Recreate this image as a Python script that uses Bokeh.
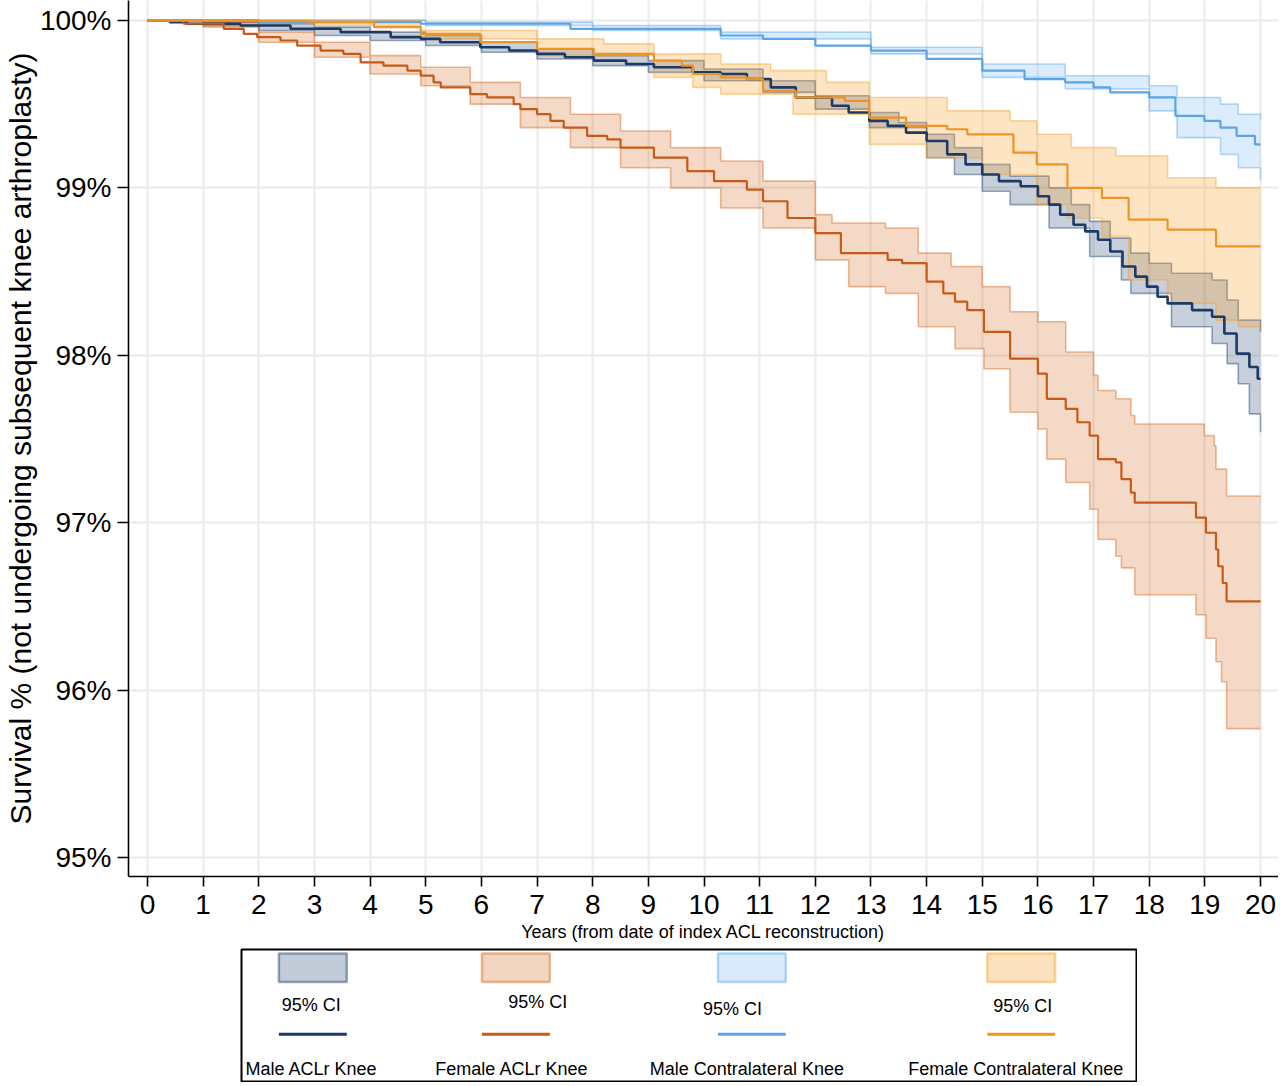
from bokeh.plotting import figure
from bokeh.models import Range1d, FixedTicker, Spacer
from bokeh.layouts import column, row
from bokeh.embed import file_html
from bokeh.resources import INLINE
from bokeh.core.properties import value

# ---------------- data ----------------
years_ticks = list(range(0, 21))
y_ticks = [95, 96, 97, 98, 99, 100]
y_tick_labels = ["95%", "96%", "97%", "98%", "99%", "100%"]

series_names = ["Male ACLr Knee", "Female ACLr Knee", "Male Contralateral Knee", "Female Contralateral Knee"]
ci_label = "95% CI"

# Male ACLr knee
male_aclr_t = [0, 0.4, 0.71, 1.67, 2.57, 3.47, 4.37, 4.91, 5.26, 5.98, 6.5, 7.0, 7.5, 8.02, 8.6, 9.1, 9.8, 10.3,
               10.77, 11.2, 11.65, 12.3, 12.6, 12.97, 13.3, 13.63, 14.0, 14.37, 14.7, 15.0, 15.3, 15.69, 16.0, 16.2,
               16.4, 16.64, 16.85, 17.08, 17.3, 17.52, 17.75, 17.96, 18.15, 18.33, 18.77, 19.13, 19.35, 19.57, 19.8,
               19.95, 20.0]
male_aclr_s = [100, 99.99, 99.98, 99.97, 99.95, 99.93, 99.90, 99.89, 99.87, 99.84, 99.82, 99.80, 99.78, 99.76,
               99.74, 99.72, 99.69, 99.68, 99.65, 99.60, 99.54, 99.49, 99.45, 99.40, 99.37, 99.33, 99.28, 99.20,
               99.14, 99.08, 99.04, 99.01, 98.95, 98.90, 98.84, 98.78, 98.74, 98.69, 98.62, 98.53, 98.47, 98.41,
               98.35, 98.31, 98.27, 98.23, 98.13, 98.01, 97.93, 97.86, 97.86]
male_aclr_up_t = [0, 1, 2, 3, 4, 5, 6, 7, 8, 9, 10, 11.06, 12, 12.97, 13.5, 14, 14.5, 15, 15.5, 16.2, 16.6, 16.93,
                  17.3, 17.67, 18.0, 18.4, 19.13, 19.4, 19.6, 20]
male_aclr_up_s = [100, 99.99, 99.98, 99.96, 99.93, 99.91, 99.87, 99.83, 99.79, 99.76, 99.71, 99.64, 99.55, 99.45,
                  99.39, 99.32, 99.24, 99.14, 99.07, 99.00, 98.90, 98.80, 98.70, 98.61, 98.55, 98.49, 98.45, 98.33,
                  98.21, 98.14]
male_aclr_lo_t = [0, 1, 2, 3, 4, 5, 6, 7, 8, 9, 10, 11.06, 12, 12.97, 14, 14.5, 15, 15.5, 16.2, 16.93, 17.5, 17.67,
                  18.4, 19.13, 19.4, 19.6, 19.8, 20]
male_aclr_lo_s = [100, 99.97, 99.94, 99.91, 99.88, 99.85, 99.81, 99.77, 99.73, 99.69, 99.64, 99.57, 99.47, 99.36,
                  99.18, 99.08, 98.98, 98.90, 98.76, 98.59, 98.45, 98.37, 98.17, 98.07, 97.95, 97.83, 97.65, 97.54]

# Female ACLr knee
female_aclr_t = [0, 0.65, 1.37, 1.73, 1.97, 2.39, 2.69, 3.11, 3.52, 3.83, 4.24, 4.67, 4.91, 5.14, 5.27, 5.8, 6.1,
                 6.58, 6.7, 7.0, 7.24, 7.48, 7.9, 8.26, 8.5, 9.1, 9.7, 10.18, 10.77, 11.06, 11.5, 12.0, 12.46, 13.3,
                 13.56, 14.0, 14.3, 14.51, 14.73, 15.03, 15.5, 16.0, 16.16, 16.5, 16.71, 16.93, 17.08, 17.4, 17.5,
                 17.67, 17.74, 18.84, 19.02, 19.2, 19.24, 19.32, 19.39, 20.0]
female_aclr_s = [100, 99.98, 99.95, 99.92, 99.90, 99.88, 99.85, 99.82, 99.80, 99.75, 99.73, 99.70, 99.67, 99.63,
                 99.60, 99.56, 99.54, 99.50, 99.47, 99.44, 99.40, 99.36, 99.31, 99.29, 99.24, 99.18, 99.10, 99.04,
                 98.99, 98.92, 98.82, 98.73, 98.61, 98.57, 98.55, 98.44, 98.37, 98.32, 98.27, 98.14, 97.98, 97.89,
                 97.74, 97.68, 97.60, 97.52, 97.38, 97.36, 97.26, 97.18, 97.12, 97.03, 96.94, 96.84, 96.74, 96.64,
                 96.53, 96.53]
female_aclr_up_t = [0, 1, 2, 3, 4, 4.91, 5.8, 6.7, 7.6, 8.5, 9.4, 10.3, 11.06, 12.0, 12.3, 13.26, 13.85, 14.44, 15.0,
                    15.5, 16.0, 16.5, 17.0, 17.08, 17.4, 17.67, 17.74, 18.99, 19.17, 19.2, 19.39, 20]
female_aclr_up_s = [100, 99.99, 99.93, 99.87, 99.79, 99.72, 99.63, 99.54, 99.44, 99.34, 99.24, 99.16, 99.04, 98.84,
                    98.79, 98.76, 98.61, 98.53, 98.41, 98.26, 98.20, 98.02, 97.88, 97.79, 97.74, 97.64, 97.59, 97.52,
                    97.46, 97.32, 97.16, 97.16]
female_aclr_lo_t = [0, 1, 2, 3, 4, 4.91, 5.8, 6.7, 7.6, 8.5, 9.4, 10.3, 11.06, 12.0, 12.6, 13.26, 13.85, 14.51,
                    15.03, 15.5, 16.0, 16.16, 16.5, 16.93, 17.08, 17.4, 17.5, 17.74, 18.84, 19.02, 19.2, 19.3,
                    19.39, 20]
female_aclr_lo_s = [100, 99.96, 99.87, 99.78, 99.68, 99.61, 99.50, 99.36, 99.24, 99.12, 99.00, 98.88, 98.76, 98.57,
                    98.41, 98.37, 98.17, 98.04, 97.92, 97.66, 97.56, 97.38, 97.24, 97.08, 96.90, 96.80, 96.73, 96.57,
                    96.45, 96.31, 96.17, 96.05, 95.77, 95.77]

# Male contralateral knee
male_contra_t = [0, 2, 4.91, 7.6, 10.3, 11.06, 12, 13, 14, 15, 15.76, 16.49, 17.0, 17.3, 18.0, 18.47, 18.99, 19.28,
                 19.57, 19.9, 20]
male_contra_s = [100, 99.99, 99.98, 99.95, 99.91, 99.89, 99.85, 99.82, 99.77, 99.70, 99.65, 99.63, 99.60, 99.57,
                 99.54, 99.43, 99.40, 99.36, 99.31, 99.26, 99.26]
male_contra_up_t = [0, 5, 8, 10.3, 13, 15, 16.49, 18, 18.5, 19.28, 19.6, 20]
male_contra_up_s = [100, 99.99, 99.97, 99.93, 99.84, 99.74, 99.67, 99.61, 99.54, 99.50, 99.44, 99.41]
male_contra_lo_t = [0, 5, 8, 10.3, 13, 15, 16.49, 18, 18.5, 19.28, 19.6, 20]
male_contra_lo_s = [100, 99.97, 99.94, 99.89, 99.80, 99.66, 99.59, 99.46, 99.30, 99.20, 99.12, 99.05]

# Female contralateral knee
female_contra_t = [0, 2, 2.87, 4.07, 4.91, 5.98, 7.0, 8.02, 9.1, 9.6, 9.8, 10.3, 10.77, 11.06, 11.65, 12.53, 12.97,
                   13.63, 14.37, 14.73, 15.56, 15.98, 16.53, 17.15, 17.63, 18.33, 19.2, 20]
female_contra_s = [100, 99.995, 99.99, 99.96, 99.92, 99.87, 99.83, 99.80, 99.76, 99.73, 99.68, 99.66, 99.65, 99.58,
                   99.54, 99.52, 99.42, 99.37, 99.35, 99.32, 99.21, 99.14, 99.00, 98.94, 98.81, 98.75, 98.65, 98.65]
female_contra_up_t = [0, 3, 4.91, 7.0, 8.2, 9.1, 10.3, 11.2, 12.2, 12.97, 14.37, 15.5, 15.98, 16.6, 17.4, 18.33,
                      19.2, 20]
female_contra_up_s = [100, 100, 99.94, 99.89, 99.86, 99.80, 99.74, 99.70, 99.63, 99.54, 99.46, 99.40, 99.32, 99.24,
                      99.19, 99.06, 99.00, 99.00]
female_contra_lo_t = [0, 3, 4.91, 7.0, 9.1, 9.8, 10.3, 11.6, 12.97, 14.0, 15.0, 15.98, 16.53, 17.15, 17.63, 18.33,
                      19.2, 19.6, 20]
female_contra_lo_s = [100, 99.97, 99.89, 99.79, 99.66, 99.60, 99.56, 99.44, 99.26, 99.18, 99.08, 98.90, 98.82,
                      98.71, 98.45, 98.31, 98.21, 98.17, 98.15]

# ---------------- styles ----------------
FONT = "Liberation Sans"
line_colors = ["#1B3A66", "#C85A17", "#5BA4E5", "#EE9425"]
band_colors = ["#1F3F6E", "#D2691E", "#5DA9F0", "#F9A02A"]
band_alpha = [0.25, 0.25, 0.22, 0.28]
line_widths = [2.6, 2.2, 2.2, 2.2]


def step_vertices(t, s, t_end):
    xs, ys = [], []
    for i in range(len(t)):
        nxt = t[i + 1] if i + 1 < len(t) else t_end
        xs += [t[i], nxt]
        ys += [s[i], s[i]]
    return xs, ys


series = [
    (male_aclr_t, male_aclr_s, male_aclr_up_t, male_aclr_up_s, male_aclr_lo_t, male_aclr_lo_s),
    (female_aclr_t, female_aclr_s, female_aclr_up_t, female_aclr_up_s, female_aclr_lo_t, female_aclr_lo_s),
    (male_contra_t, male_contra_s, male_contra_up_t, male_contra_up_s, male_contra_lo_t, male_contra_lo_s),
    (female_contra_t, female_contra_s, female_contra_up_t, female_contra_up_s, female_contra_lo_t, female_contra_lo_s),
]

# ---------------- main figure ----------------
p = figure(width=1278, height=948, output_backend="svg", toolbar_location=None,
           x_range=Range1d(-0.3414, 20.323), y_range=Range1d(94.887, 100.119),
           min_border_left=128, min_border_right=0, min_border_top=0, min_border_bottom=72)
p.outline_line_color = None
p.background_fill_color = "white"
p.border_fill_color = "white"

p.xaxis.ticker = FixedTicker(ticks=years_ticks)
p.yaxis.ticker = FixedTicker(ticks=y_ticks)
p.yaxis.major_label_overrides = {t: lab for t, lab in zip(y_ticks, y_tick_labels)}
p.xgrid.ticker = FixedTicker(ticks=years_ticks)
p.ygrid.ticker = FixedTicker(ticks=y_ticks)
for g in (p.xgrid, p.ygrid):
    g.grid_line_color = "#EAEAEA"
    g.grid_line_width = 2

for ax in (p.xaxis, p.yaxis):
    ax.axis_line_color = "black"
    ax.axis_line_width = 1.6
    ax.major_tick_line_color = "black"
    ax.major_tick_line_width = 1.6
    ax.major_tick_in = 0
    ax.minor_tick_line_color = None
    ax.major_label_text_font = FONT
    ax.major_label_text_font_size = "28px"
    ax.major_label_text_color = "black"
    ax.axis_label_text_font = FONT
    ax.axis_label_text_font_style = "normal"
    ax.axis_label_text_color = "black"

p.xaxis.major_tick_out = 10
p.xaxis.axis_label = "Years (from date of index ACL reconstruction)"
p.xaxis.axis_label_text_font_size = "18px"
p.xaxis.major_label_standoff = 8
p.xaxis.axis_label_standoff = 5
p.yaxis.major_tick_out = 11
p.yaxis.axis_label = "Survival % (not undergoing subsequent knee arthroplasty)"
p.yaxis.axis_label_text_font_size = "30px"
p.yaxis.major_label_standoff = 6
p.yaxis.axis_label_standoff = 0

# CI bands
for (t, s, ut, us, lt, ls), bc, ba in zip(series, band_colors, band_alpha):
    uxs, uys = step_vertices(ut, us, 20)
    lxs, lys = step_vertices(lt, ls, 20)
    p.patch(uxs + lxs[::-1], uys + lys[::-1], fill_color=bc, fill_alpha=ba, line_color=None)
    p.line(uxs, uys, line_color=bc, line_alpha=0.45, line_width=1.6)
    p.line(lxs, lys, line_color=bc, line_alpha=0.45, line_width=1.6)

# survival lines
for (t, s, ut, us, lt, ls), lc, lw in zip(series, line_colors, line_widths):
    xs, ys = step_vertices(t, s, 20)
    p.line(xs, ys, line_color=lc, line_width=lw)

# ---------------- legend box ----------------
lg = figure(width=897, height=134, output_backend="svg", toolbar_location=None,
            x_range=Range1d(0, 897), y_range=Range1d(134, 0),
            min_border=1)
lg.axis.visible = False
lg.grid.visible = False
lg.outline_line_color = "black"
lg.outline_line_width = 2
lg.background_fill_color = "white"

swatch_x = [71.5, 275, 511.5, 781.5]          # swatch centers (legend px)
ci_text_x = [70, 297, 492, 783]
ci_text_y = [56, 53, 60, 57]
name_x = [4, 271, 506.5, 776]
name_align = ["left", "center", "center", "center"]

for i in range(4):
    lg.rect(x=swatch_x[i], y=18.5, width=68, height=29, fill_color=band_colors[i], fill_alpha=band_alpha[i] + 0.02,
            line_color=band_colors[i], line_alpha=0.45, line_width=2.5)
    lg.text(x=[ci_text_x[i]], y=[ci_text_y[i]], text=[ci_label], text_font=value(FONT), text_font_size="18px",
            text_align="center", text_baseline="middle", text_color="black")
    lg.line(x=[swatch_x[i] - 34, swatch_x[i] + 34], y=[86, 86], line_color=line_colors[i], line_width=3)
    lg.text(x=[name_x[i]], y=[121], text=[series_names[i]], text_font=value(FONT), text_font_size="18px",
            text_align=name_align[i], text_baseline="alphabetic", text_color="black")

layout = column(p, row(Spacer(width=240, height=134), lg))
open("out.html", "w").write(file_html(layout, INLINE))
